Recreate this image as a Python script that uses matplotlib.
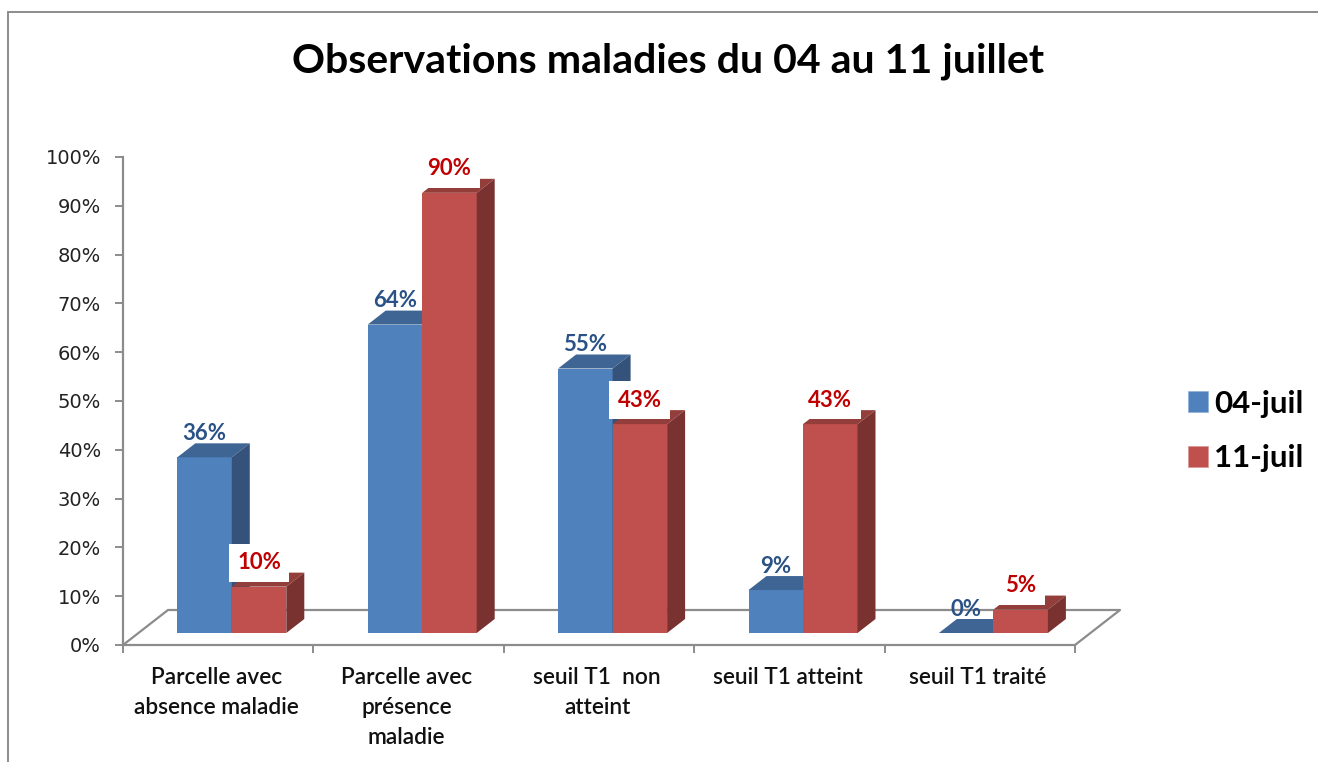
import matplotlib
matplotlib.use('Agg')
import matplotlib.pyplot as plt
from matplotlib.patches import Polygon, Rectangle, Patch

categories = ["Parcelle avec\nabsence maladie", "Parcelle avec\nprésence\nmaladie",
              "seuil T1  non\natteint", "seuil T1 atteint", "seuil T1 traité"]
series_names = ["04-juil", "11-juil"]
values_04 = [36, 63.2, 54.2, 8.8, 0]
values_11 = [9.5, 90.2, 42.8, 42.8, 4.8]
labels_04 = ["36%", "64%", "55%", "9%", "0%"]
labels_11 = ["10%", "90%", "43%", "43%", "5%"]
y_ticks = list(range(0, 101, 10))

W, H = 1318, 762
GRAY = '#8c8c8c'

fig = plt.figure(figsize=(W / 100, H / 100), dpi=100)
ax = fig.add_axes([123 / W, 1 - 645 / H, 952 / W, 488 / H])
ax.set_xlim(0, 5)
ax.set_ylim(0, 100)
ax.patch.set_alpha(0)

ux = 952 / 5      # pixels per category
uy = 4.88         # pixels per percent

# floor
floor_dx = 45 / ux
floor_dy = 35 / uy
ax.plot([0, floor_dx, 5 + floor_dx, 5], [0, floor_dy, floor_dy, 0],
        color=GRAY, lw=1.6, clip_on=False, zorder=1)

base = 12 / uy
bar_w = 54.5 / ux
left = 54.3 / ux
dx = 18 / ux
dy = 14 / uy


def draw_bar(x, v, front, top, side, z):
    ax.bar(x, v, width=bar_w, bottom=base, align='edge', color=front, lw=0, zorder=z)
    y1 = base + v
    ax.add_patch(Polygon([(x, y1), (x + dx, y1 + dy), (x + bar_w + dx, y1 + dy), (x + bar_w, y1)],
                         facecolor=top, lw=0, zorder=z))
    ax.add_patch(Polygon([(x + bar_w, base), (x + bar_w + dx, base + dy),
                          (x + bar_w + dx, y1 + dy), (x + bar_w, y1)],
                         facecolor=side, lw=0, zorder=z))


for i in range(len(categories)):
    z = 2 + i
    x0 = i + left
    draw_bar(x0, values_04[i], '#4f81bd', '#3f6594', '#35527a', z)
    draw_bar(x0 + bar_w, values_11[i], '#c0504d', '#943e3b', '#7a3230', z + 0.1)

# data labels, the red ones have a white box
for i in range(len(categories)):
    x0 = i + left
    ax.text(x0 + bar_w / 2, base + values_04[i] + 24 / uy, labels_04[i], color='#2a5286',
            fontsize=16, family='Lato', weight='bold', ha='center', va='center', zorder=20)
    ax.text(x0 + bar_w * 1.5, base + values_11[i] + 24 / uy, labels_11[i], color='#c00000',
            fontsize=16, family='Lato', weight='bold', ha='center', va='center', zorder=19,
            bbox=dict(facecolor='white', edgecolor='none', pad=6))

# axes
for s in ['top', 'right']:
    ax.spines[s].set_visible(False)
for s in ['left', 'bottom']:
    ax.spines[s].set_color(GRAY)
    ax.spines[s].set_linewidth(1.6)
    ax.spines[s].set_zorder(1)

ax.set_yticks(y_ticks)
ax.set_yticklabels(["%d%%" % t for t in y_ticks], fontsize=14, color='#222222', family='DejaVu Sans')
ax.tick_params(axis='y', length=5.8, width=1.4, color=GRAY, pad=10)

ax.set_xticks(range(6))
ax.set_xticklabels([])
ax.tick_params(axis='x', which='major', length=5.8, width=1.4, color=GRAY)
ax.set_xticks([i + 0.49 for i in range(5)], minor=True)
ax.set_xticklabels(categories, minor=True, fontsize=16.3, family='Lato', weight='semibold',
                   color='#111111', linespacing=1.53)
ax.tick_params(axis='x', which='minor', length=0, pad=15.5)

# title
fig.text(668 / W, 1 - 61 / H, "Observations maladies du 04 au 11 juillet", fontsize=29.5,
         family='Lato', weight='bold', color='black', ha='center', va='center')

# legend
handles = [Patch(facecolor='#4f81bd', edgecolor='#8fb0d8', lw=0.5),
           Patch(facecolor='#c0504d', edgecolor='#d99694', lw=0.5)]
fig.legend(handles, series_names, loc='center left', bbox_to_anchor=(1188 / W, 1 - 431 / H),
           frameon=False, prop=dict(family='Lato', weight='bold', size=22.5),
           handlelength=0.64, handleheight=0.64, handletextpad=0.2, labelspacing=0.86,
           borderpad=0, borderaxespad=0)

# chart border, open on the right and bottom side of the crop
fig.add_artist(Rectangle((8 / W, -0.05), 1.1, 1 - 12 / H + 0.05, transform=fig.transFigure,
                         facecolor='none', edgecolor=GRAY, lw=1.4))

fig.savefig('out.png', dpi=100, facecolor='white')
